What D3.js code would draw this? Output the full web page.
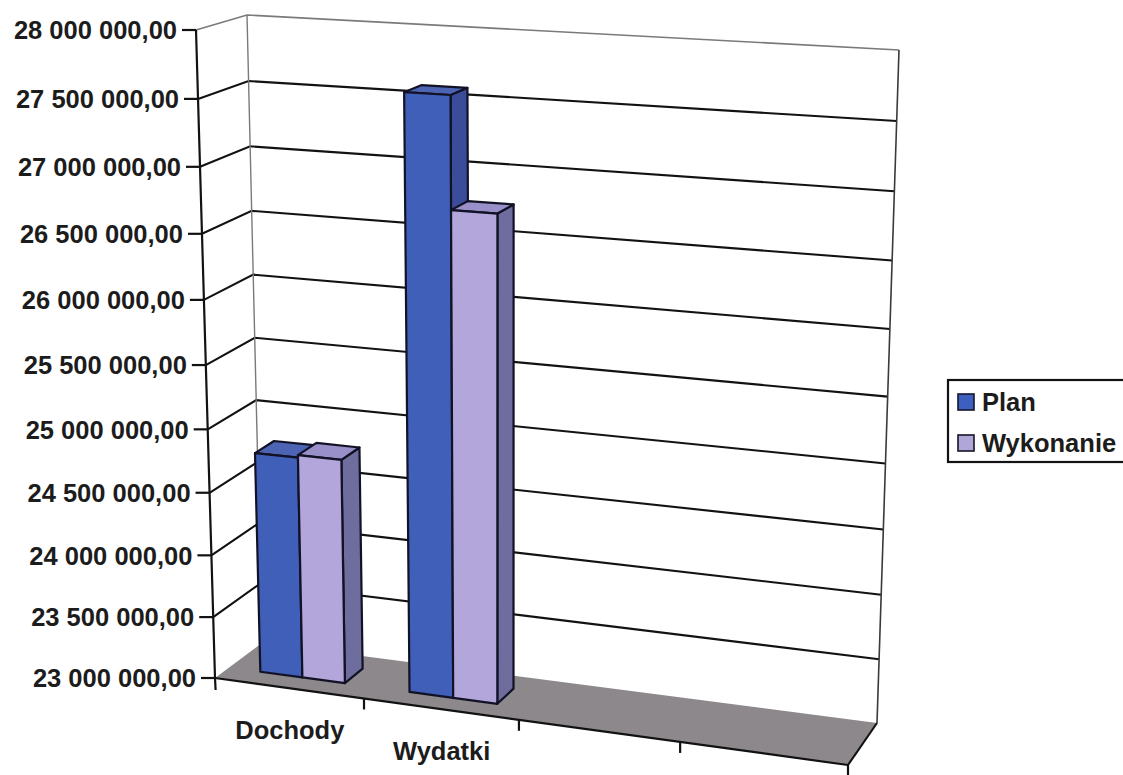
<!DOCTYPE html>
<html>
<head>
<meta charset="utf-8">
<script src="https://cdnjs.cloudflare.com/ajax/libs/d3/7.8.5/d3.min.js"></script>
<style>
  html, body { margin: 0; padding: 0; background: #ffffff; }
  svg { display: block; }
  text { font-family: "Liberation Sans", Arial, sans-serif; font-weight: bold; fill: #1c1c1c; }
</style>
</head>
<body>
<svg id="chart" width="1123" height="775"></svg>
<script>
// ---- data ----
const categories = ["Dochody", "Wydatki", "", ""];
const seriesNames = ["Plan", "Wykonanie"];
const planValues = [24770000, 27595000, null, null];
const wykonanieValues = [24790000, 26760000, null, null];
const valueTicks = [23000000, 23500000, 24000000, 24500000, 25000000,
                    25500000, 26000000, 26500000, 27000000, 27500000, 28000000];

const seriesValues = [planValues, wykonanieValues];
const faceColors = {
  Plan:      { front: "#405fb8", top: "#4d64b5", side: "#3b4c9b", key: "#3d60c0" },
  Wykonanie: { front: "#b3a6db", top: "#9a90c9", side: "#6f6c9e", key: "#b0a6d8" }
};

// ---- 3D box projection ----
// (u, v) span the unit square of a wall plane: u along categories, v along values.
// w is depth: 0 at the front plane, 1 at the back wall.
function squareToQuad(q) {
  const [[x0, y0], [x1, y1], [x2, y2], [x3, y3]] = q;
  const dx1 = x1 - x2, dx2 = x3 - x2, dx3 = x0 - x1 + x2 - x3;
  const dy1 = y1 - y2, dy2 = y3 - y2, dy3 = y0 - y1 + y2 - y3;
  const den = dx1 * dy2 - dx2 * dy1;
  const g = (dx3 * dy2 - dx2 * dy3) / den;
  const h = (dx1 * dy3 - dx3 * dy1) / den;
  const a = x1 - x0 + g * x1, b = x3 - x0 + h * x3, c = x0;
  const d = y1 - y0 + g * y1, e = y3 - y0 + h * y3, f = y0;
  return (u, v) => {
    const z = g * u + h * v + 1;
    return [(a * u + b * v + c) / z, (d * u + e * v + f) / z];
  };
}
// corners in order (0,0), (1,0), (1,1), (0,1)
const frontPlane = squareToQuad([[215, 678], [848, 765], [876, 66], [196, 30]]);
const backPlane  = squareToQuad([[262, 643], [877, 723], [899, 50], [247, 15]]);
function proj(u, v, w) {
  const f = frontPlane(u, v), b = backPlane(u, v);
  return [f[0] + (b[0] - f[0]) * w, f[1] + (b[1] - f[1]) * w];
}
const poly = pts => "M" + pts.map(p => p[0].toFixed(2) + "," + p[1].toFixed(2)).join("L") + "Z";
const path = pts => "M" + pts.map(p => p[0].toFixed(2) + "," + p[1].toFixed(2)).join("L");

// ---- scales ----
const yScale = d3.scaleLinear().domain([23000000, 28000000]).range([0, 1]);
const xScale = d3.scaleBand().domain(d3.range(categories.length)).range([0, 1]).padding(0);
const xSeries = d3.scaleBand().domain(seriesNames).range([0, xScale.bandwidth()])
  .paddingInner(0).paddingOuter(0.75);
const depthScale = d3.scaleBand().domain(["row"]).range([0, 1]).paddingOuter(0.75);

const pl = d3.formatLocale({ decimal: ",", thousands: " ", grouping: [3], currency: ["", ""] });
const fmt = pl.format(",.2f");

const svg = d3.select("#chart");

// ---- walls and floor ----
const wallG = svg.append("g");
wallG.append("path")
  .attr("d", poly([proj(0, 0, 0), proj(0, 1, 0), proj(0, 1, 1), proj(0, 0, 1)]))
  .attr("fill", "#ffffff");
wallG.append("path")
  .attr("d", poly([proj(0, 0, 1), proj(1, 0, 1), proj(1, 1, 1), proj(0, 1, 1)]))
  .attr("fill", "#ffffff");
wallG.append("path")
  .attr("d", poly([proj(0, 0, 0), proj(1, 0, 0), proj(1, 0, 1), proj(0, 0, 1)]))
  .attr("fill", "#8c888b");

// gridlines: side wall then back wall
const gridG = svg.append("g").attr("fill", "none");
valueTicks.forEach(t => {
  const v = yScale(t);
  if (v === 0) return;
  const top = v === 1;
  gridG.append("path")
    .attr("d", path([proj(0, v, 0), proj(0, v, 1), proj(1, v, 1)]))
    .attr("stroke", top ? "#7a7a7a" : "#121212")
    .attr("stroke-width", top ? 1.6 : 2.1);
});
// back wall vertical edges
gridG.append("path").attr("d", path([proj(0, 0, 1), proj(0, 1, 1)]))
  .attr("stroke", "#7a7a7a").attr("stroke-width", 1.4);
gridG.append("path").attr("d", path([proj(1, 0, 1), proj(1, 1, 1)]))
  .attr("stroke", "#3a3a3a").attr("stroke-width", 1.6);
// floor right edge
gridG.append("path").attr("d", path([proj(1, 0, 0), proj(1, 0, 1)]))
  .attr("stroke", "#121212").attr("stroke-width", 2.1);

// ---- bars ----
const w0 = depthScale("row"), w1 = w0 + depthScale.bandwidth();
const barG = svg.append("g")
  .attr("stroke", "#121226").attr("stroke-width", 2.2).attr("stroke-linejoin", "round");
categories.forEach((cat, i) => {
  seriesNames.forEach((s, j) => {
    const val = seriesValues[j][i];
    if (val == null) return;
    const u0 = xScale(i) + xSeries(s), u1 = u0 + xSeries.bandwidth();
    const v0 = 0, v1 = yScale(val);
    const col = faceColors[s];
    barG.append("path").attr("fill", col.side)
      .attr("d", poly([proj(u1, v0, w0), proj(u1, v0, w1), proj(u1, v1, w1), proj(u1, v1, w0)]));
    barG.append("path").attr("fill", col.top)
      .attr("d", poly([proj(u0, v1, w0), proj(u1, v1, w0), proj(u1, v1, w1), proj(u0, v1, w1)]));
    barG.append("path").attr("fill", col.front)
      .attr("d", poly([proj(u0, v0, w0), proj(u1, v0, w0), proj(u1, v1, w0), proj(u0, v1, w0)]));
  });
});

// ---- value axis ----
const axisG = svg.append("g");
const axisBottom = proj(0, 0, 0);
axisG.append("path")
  .attr("d", path([proj(0, 1, 0), axisBottom, [axisBottom[0] + 0.6, axisBottom[1] + 12]]))
  .attr("fill", "none").attr("stroke", "#121212").attr("stroke-width", 2.2);
valueTicks.forEach(t => {
  const p = proj(0, yScale(t), 0);
  axisG.append("line")
    .attr("x1", p[0] - 14).attr("x2", p[0]).attr("y1", p[1]).attr("y2", p[1])
    .attr("stroke", "#121212").attr("stroke-width", 2.2);
  axisG.append("text")
    .attr("x", p[0] - 19).attr("y", p[1]).attr("dy", "0.36em")
    .attr("text-anchor", "end").attr("font-size", 25.5)
    .text(fmt(t));
});

// ---- category axis ----
axisG.append("path")
  .attr("d", path([proj(0, 0, 0), proj(1, 0, 0)]))
  .attr("fill", "none").attr("stroke", "#121212").attr("stroke-width", 2.2);
d3.range(1, categories.length + 1).forEach(i => {
  const p = proj(i / categories.length, 0, 0);
  axisG.append("line")
    .attr("x1", p[0]).attr("x2", p[0]).attr("y1", p[1]).attr("y2", p[1] + 11)
    .attr("stroke", "#121212").attr("stroke-width", 2.2);
});
categories.forEach((cat, i) => {
  if (!cat) return;
  const p = proj(xScale(i) + xScale.bandwidth() / 2, 0, 0);
  axisG.append("text")
    .attr("x", p[0] + 1).attr("y", p[1] + 51)
    .attr("text-anchor", "middle").attr("font-size", 25.5)
    .text(cat);
});

// ---- legend ----
const legend = svg.append("g").attr("transform", "translate(948,380)");
legend.append("rect").attr("width", 182).attr("height", 82)
  .attr("fill", "#ffffff").attr("stroke", "#121212").attr("stroke-width", 2.2);
seriesNames.forEach((s, j) => {
  const row = legend.append("g").attr("transform", `translate(10,${14 + j * 41})`);
  row.append("rect").attr("width", 16).attr("height", 16)
    .attr("fill", faceColors[s].key).attr("stroke", "#15152a").attr("stroke-width", 1.6);
  row.append("text").attr("x", 24).attr("y", 17).attr("font-size", 25.5).text(s);
});
</script>
</body>
</html>
